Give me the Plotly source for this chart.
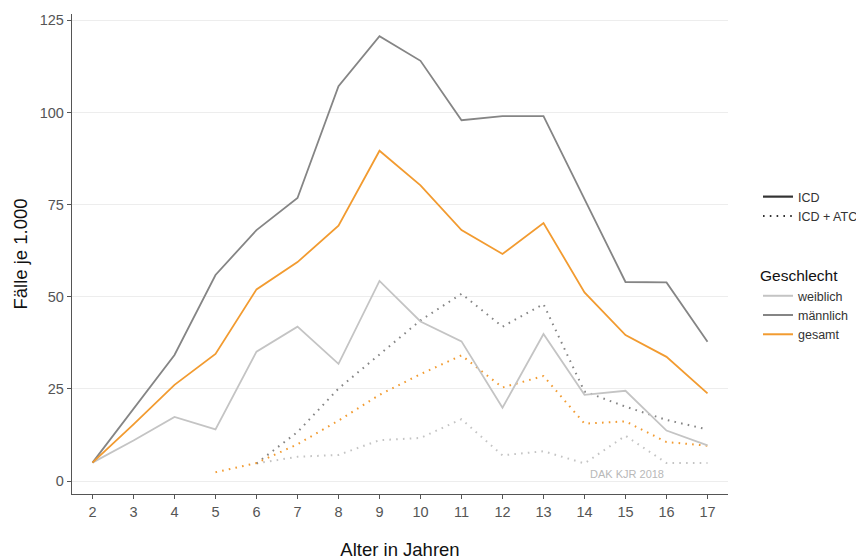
import plotly.graph_objects as go

ages = list(range(2, 18))

# ICD (solid)
icd_weiblich = [5.0, 11.0, 17.4, 14.0, 35.1, 41.9, 31.8, 54.3, 43.3, 37.9, 19.9, 39.9, 23.4, 24.5, 13.7, 9.7]
icd_maennlich = [5.0, 19.6, 34.2, 55.9, 68.1, 76.8, 107.1, 120.7, 114.0, 97.9, 99.0, 99.0, 76.6, 54.0, 53.9, 37.8]
icd_gesamt = [5.0, 15.4, 26.1, 34.5, 52.0, 59.4, 69.3, 89.6, 80.2, 68.1, 61.6, 70.0, 51.2, 39.6, 33.7, 23.8]

# ICD + ATC (dotted)
atc_ages = list(range(5, 18))
atc_weiblich = [None, 4.8, 6.6, 7.1, 11.1, 11.7, 16.8, 7.0, 8.1, 4.8, 12.3, 4.9, 4.9]
atc_maennlich = [None, 4.8, 13.3, 25.1, 34.4, 43.6, 50.8, 41.9, 48.0, 24.3, 20.2, 16.6, 14.0]
atc_gesamt = [2.4, 4.9, 10.0, 16.4, 23.4, 29.0, 34.1, 25.4, 28.5, 15.6, 16.2, 10.6, 9.6]

groups = ["weiblich", "männlich", "gesamt"]
colors = {"weiblich": "#c4c4c4", "männlich": "#858585", "gesamt": "#f29b30"}
linetypes = ["ICD", "ICD + ATC"]

y_ticks = [0, 25, 50, 75, 100, 125]
x_ticks = ages

font_family = "Liberation Sans, Arial, sans-serif"
DOT = "1.6px,5.2px"

ML, MR, MT, MB = 72, 128, 14, 66
W, H = 856, 560

fig = go.Figure()

icd_data = {"weiblich": icd_weiblich, "männlich": icd_maennlich, "gesamt": icd_gesamt}
atc_data = {"weiblich": atc_weiblich, "männlich": atc_maennlich, "gesamt": atc_gesamt}

for g in groups:
    fig.add_trace(go.Scatter(
        x=atc_ages, y=atc_data[g], mode="lines", showlegend=False,
        line=dict(color=colors[g], width=2, dash=DOT), hoverinfo="skip",
        connectgaps=False))
for g in groups:
    fig.add_trace(go.Scatter(
        x=ages, y=icd_data[g], mode="lines", showlegend=False,
        line=dict(color=colors[g], width=1.8), hoverinfo="skip"))

# legend: linetype
fig.add_trace(go.Scatter(x=[None], y=[None], mode="lines", name=linetypes[0],
                         line=dict(color="#333333", width=2.2), legend="legend"))
fig.add_trace(go.Scatter(x=[None], y=[None], mode="lines", name=linetypes[1],
                         line=dict(color="#333333", width=2, dash=DOT), legend="legend"))
# legend: Geschlecht
for g in groups:
    fig.add_trace(go.Scatter(x=[None], y=[None], mode="lines", name=g,
                             line=dict(color=colors[g], width=2), legend="legend2"))

fig.add_annotation(x=15.03, y=1.9, text="DAK KJR 2018", showarrow=False,
                   font=dict(family=font_family, size=11, color="#b8b8b8"),
                   xanchor="center", yanchor="middle")

plot_w = W - ML - MR
plot_h = H - MT - MB
def px_to_paper_x(px):
    return (px - ML) / plot_w
def px_to_paper_y(py):
    return (H - MB - py) / plot_h

fig.update_layout(
    width=W, height=H,
    margin=dict(l=ML, r=MR, t=MT, b=MB, autoexpand=False),
    paper_bgcolor="white", plot_bgcolor="white",
    font=dict(family=font_family, color="#4d4d4d"),
    xaxis=dict(
        range=[1.5, 17.5], tickvals=x_ticks, ticktext=[str(v) for v in x_ticks],
        showgrid=False, zeroline=False, automargin=False,
        showline=True, linecolor="#555555", linewidth=1.3,
        ticks="outside", ticklen=4, tickcolor="#555555", tickwidth=1.1,
        tickfont=dict(size=14.5, color="#555555"),
        title=dict(text="Alter in Jahren", font=dict(size=18.5, color="#111111"), standoff=27),
    ),
    yaxis=dict(
        range=[-3.5, 126.7], tickvals=y_ticks, ticktext=[str(v) for v in y_ticks],
        showgrid=True, gridcolor="#ededed", gridwidth=1, zeroline=False, automargin=False,
        showline=True, linecolor="#555555", linewidth=1.3,
        ticks="outside", ticklen=4, tickcolor="#555555", tickwidth=1.1,
        tickfont=dict(size=14.5, color="#555555"),
        title=dict(text="Fälle je 1.000", font=dict(size=18.5, color="#111111"), standoff=7),
    ),
    legend=dict(
        x=px_to_paper_x(758), y=px_to_paper_y(182), xanchor="left", yanchor="top",
        font=dict(size=12.5, color="#333333"), bgcolor="rgba(0,0,0,0)",
        tracegroupgap=0, itemwidth=30,
    ),
    legend2=dict(
        x=px_to_paper_x(758), y=px_to_paper_y(261), xanchor="left", yanchor="top",
        font=dict(size=12.5, color="#333333"), bgcolor="rgba(0,0,0,0)",
        title=dict(text="Geschlecht", font=dict(size=15.5, color="#111111")),
        itemwidth=30,
    ),
)

fig.write_html("out.html", post_script="document.body.style.margin='0';",
               config={"displayModeBar": False})
